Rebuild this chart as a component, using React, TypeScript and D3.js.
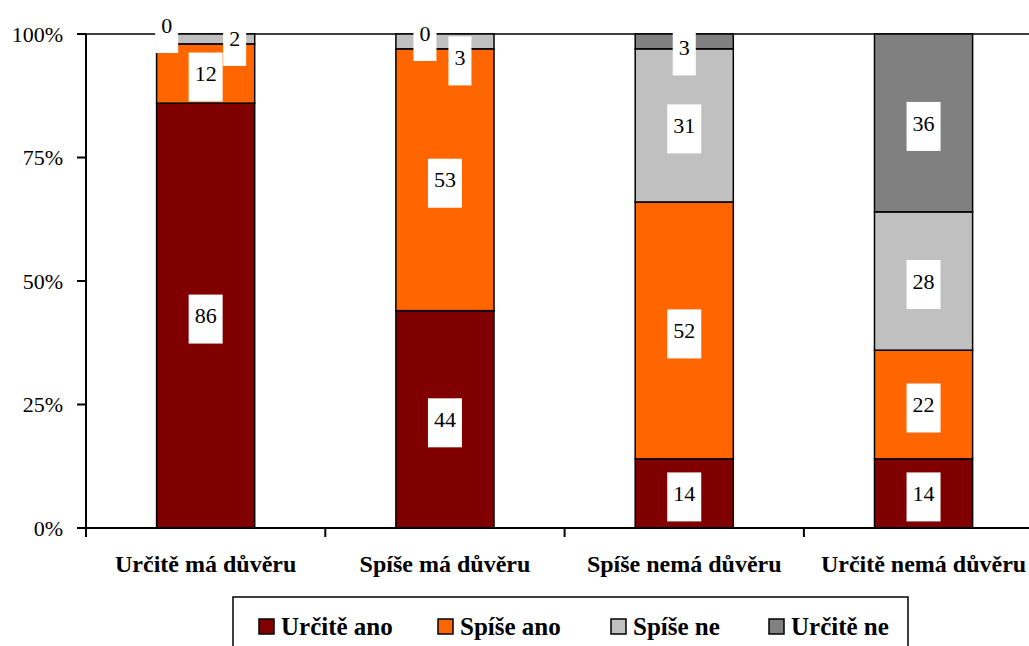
import * as d3 from 'd3';
import * as React from 'react';

const W = 1029;
const H = 646;

const categories = ['Určitě má důvěru', 'Spíše má důvěru', 'Spíše nemá důvěru', 'Určitě nemá důvěru'];
const seriesNames = ['Určitě ano', 'Spíše ano', 'Spíše ne', 'Určitě ne'];
const urciteAno = [86, 44, 14, 14];
const spiseAno = [12, 53, 52, 22];
const spiseNe = [2, 3, 31, 28];
const urciteNe = [0, 0, 3, 36];
const yTicks = [0, 25, 50, 75, 100];

const colors = ['#800000', '#FF6600', '#C0C0C0', '#808080'];
const serif = '"Liberation Serif", "Times New Roman", serif';

// label nudges for the crowded tiny segments at the top of the bars
const labelNudge: Record<string, [number, number]> = {
  '0-2': [29, -1],
  '0-3': [-39, -9],
  '1-2': [15, 16],
  '1-3': [-20, -1],
  '2-3': [0, 6],
};

const LEFT = 86;
const TOP = 34;
const BOTTOM = 528;
const STEP = 239.3;

export default function App() {
  React.useEffect(() => {
    document.body.style.margin = '0';
  }, []);

  const values = [urciteAno, spiseAno, spiseNe, urciteNe];
  const table = categories.map((c, i) => {
    const row: Record<string, number | string> = { cat: c };
    seriesNames.forEach((s, j) => (row[s] = values[j][i]));
    return row;
  });
  const stacked = d3.stack<Record<string, number | string>>().keys(seriesNames)(table as any);

  const x = d3
    .scaleBand<string>()
    .domain(categories)
    .range([LEFT, LEFT + STEP * categories.length])
    .padding(0);
  const y = d3.scaleLinear().domain([0, 100]).range([BOTTOM, TOP]);
  const barW = x.bandwidth() * 0.41;

  const legendX = [259, 438, 611, 769];

  return (
    <svg width={W} height={H} style={{ display: 'block', background: '#fff' }}>
      {/* plot border */}
      <rect x={LEFT} y={TOP} width={STEP * 4} height={BOTTOM - TOP} fill="#fff" stroke="#000" strokeWidth={1.5} />

      {/* bars */}
      {stacked.map((layer, j) => (
        <g key={seriesNames[j]}>
          {layer.map((d, i) => {
            const cx = (x(categories[i]) as number) + x.bandwidth() / 2;
            if (d[1] - d[0] <= 0) return null;
            return (
              <rect
                key={i}
                x={cx - barW / 2}
                y={y(d[1])}
                width={barW}
                height={y(d[0]) - y(d[1])}
                fill={colors[j]}
                stroke="#000"
                strokeWidth={1.5}
              />
            );
          })}
        </g>
      ))}

      {/* axes */}
      <line x1={LEFT} x2={LEFT} y1={TOP} y2={BOTTOM} stroke="#000" strokeWidth={2} />
      <line x1={LEFT} x2={W} y1={BOTTOM} y2={BOTTOM} stroke="#000" strokeWidth={2} />
      {yTicks.map(t => (
        <g key={t}>
          <line x1={LEFT - 9} x2={LEFT} y1={y(t)} y2={y(t)} stroke="#000" strokeWidth={2} />
          <text x={LEFT - 23} y={y(t)} dy="0.35em" textAnchor="end" fontFamily={serif} fontSize={22} fill="#000">
            {t}%
          </text>
        </g>
      ))}
      {d3.range(categories.length + 1).map(k => (
        <line key={k} x1={LEFT + k * STEP} x2={LEFT + k * STEP} y1={BOTTOM} y2={BOTTOM + 9} stroke="#000" strokeWidth={2} />
      ))}
      {categories.map(c => (
        <text
          key={c}
          x={(x(c) as number) + x.bandwidth() / 2}
          y={572}
          textAnchor="middle"
          fontFamily={serif}
          fontWeight="bold"
          fontSize={24}
          fill="#000"
        >
          {c}
        </text>
      ))}

      {/* data labels */}
      {stacked.map((layer, j) => (
        <g key={'l' + j}>
          {layer.map((d, i) => {
            const v = values[j][i];
            const nudge = labelNudge[`${i}-${j}`] || [0, 0];
            const cx = (x(categories[i]) as number) + x.bandwidth() / 2 + nudge[0];
            const cy = y((d[0] + d[1]) / 2) + nudge[1];
            const bw = String(v).length > 1 ? 34 : 23;
            return (
              <g key={i}>
                <rect x={cx - bw / 2} y={cy - 21} width={bw} height={49} fill="#fff" />
                <text x={cx} y={cy} dy="0.35em" textAnchor="middle" fontFamily={serif} fontSize={22} fill="#000">
                  {v}
                </text>
              </g>
            );
          })}
        </g>
      ))}

      {/* legend */}
      <rect x={233} y={597} width={675} height={60} fill="#fff" stroke="#000" strokeWidth={1.5} />
      {seriesNames.map((s, j) => (
        <g key={s}>
          <rect x={legendX[j]} y={619} width={15} height={15} fill={colors[j]} stroke="#000" strokeWidth={1.5} />
          <text x={legendX[j] + 22} y={635} fontFamily={serif} fontWeight="bold" fontSize={25} fill="#000">
            {s}
          </text>
        </g>
      ))}
    </svg>
  );
}
